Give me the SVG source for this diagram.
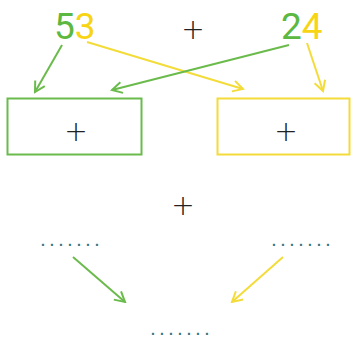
<svg xmlns="http://www.w3.org/2000/svg" width="351" height="338" viewBox="0 0 351 338">
<style>
.t{font-family:"Roboto","Liberation Sans",sans-serif}
.num{font-size:37px}
.g{fill:#5cb840}
.y{fill:#f7d414}
.plus{font-family:"DejaVu Sans","Liberation Sans",sans-serif;font-weight:200;font-size:28px;fill:#222;text-anchor:middle}
.dots{font-family:"Liberation Sans",sans-serif;font-size:14px;font-weight:bold;fill:#35757e;letter-spacing:5.1px}
.lg{stroke:#6abb4c;stroke-width:2;fill:none}
.ly{stroke:#f3dc3a;stroke-width:2;fill:none}
</style>
<defs>
<marker id="ag" viewBox="0 0 14 14" refX="12" refY="7" markerWidth="14" markerHeight="14" markerUnits="userSpaceOnUse" orient="auto"><path d="M2,1.5 L12,7 L2,12.5" fill="none" stroke="#6abb4c" stroke-width="2"/></marker>
<marker id="ay" viewBox="0 0 14 14" refX="12" refY="7" markerWidth="14" markerHeight="14" markerUnits="userSpaceOnUse" orient="auto"><path d="M2,1.5 L12,7 L2,12.5" fill="none" stroke="#f3dc3a" stroke-width="2"/></marker>
</defs>
<rect width="351" height="338" fill="#fff"/>
<g id="n53"><text class="t num" x="54" y="39"><tspan class="g">5</tspan><tspan class="y">3</tspan></text></g>
<g id="plusTop"><text class="plus" x="193" y="39">+</text></g>
<g id="n24"><text class="t num" x="281" y="39"><tspan class="g">2</tspan><tspan class="y">4</tspan></text></g>
<g id="boxL"><rect x="7.5" y="98.5" width="134" height="56" class="lg"/><text class="plus" x="76" y="141">+</text></g>
<g id="boxR"><rect x="217.5" y="98.5" width="132" height="56" class="ly"/><text class="plus" x="286" y="141">+</text></g>
<g id="plusMid"><text class="plus" x="183" y="215">+</text></g>
<g id="dotsL"><text class="dots" x="41" y="245.5">.......</text></g>
<g id="dotsR"><text class="dots" x="272" y="245.5">.......</text></g>
<g id="dotsB"><text class="dots" x="151" y="335">.......</text></g>
<g id="connectors">
<line x1="62" y1="45" x2="35" y2="92" class="lg" marker-end="url(#ag)"/>
<line x1="87" y1="42" x2="243" y2="89" class="ly" marker-end="url(#ay)"/>
<line x1="289" y1="45" x2="112" y2="90" class="lg" marker-end="url(#ag)"/>
<line x1="307" y1="43" x2="323" y2="91" class="ly" marker-end="url(#ay)"/>
<line x1="73" y1="257" x2="125" y2="302" class="lg" marker-end="url(#ag)"/>
<line x1="283" y1="257" x2="232" y2="302" class="ly" marker-end="url(#ay)"/>
</g>
</svg>
